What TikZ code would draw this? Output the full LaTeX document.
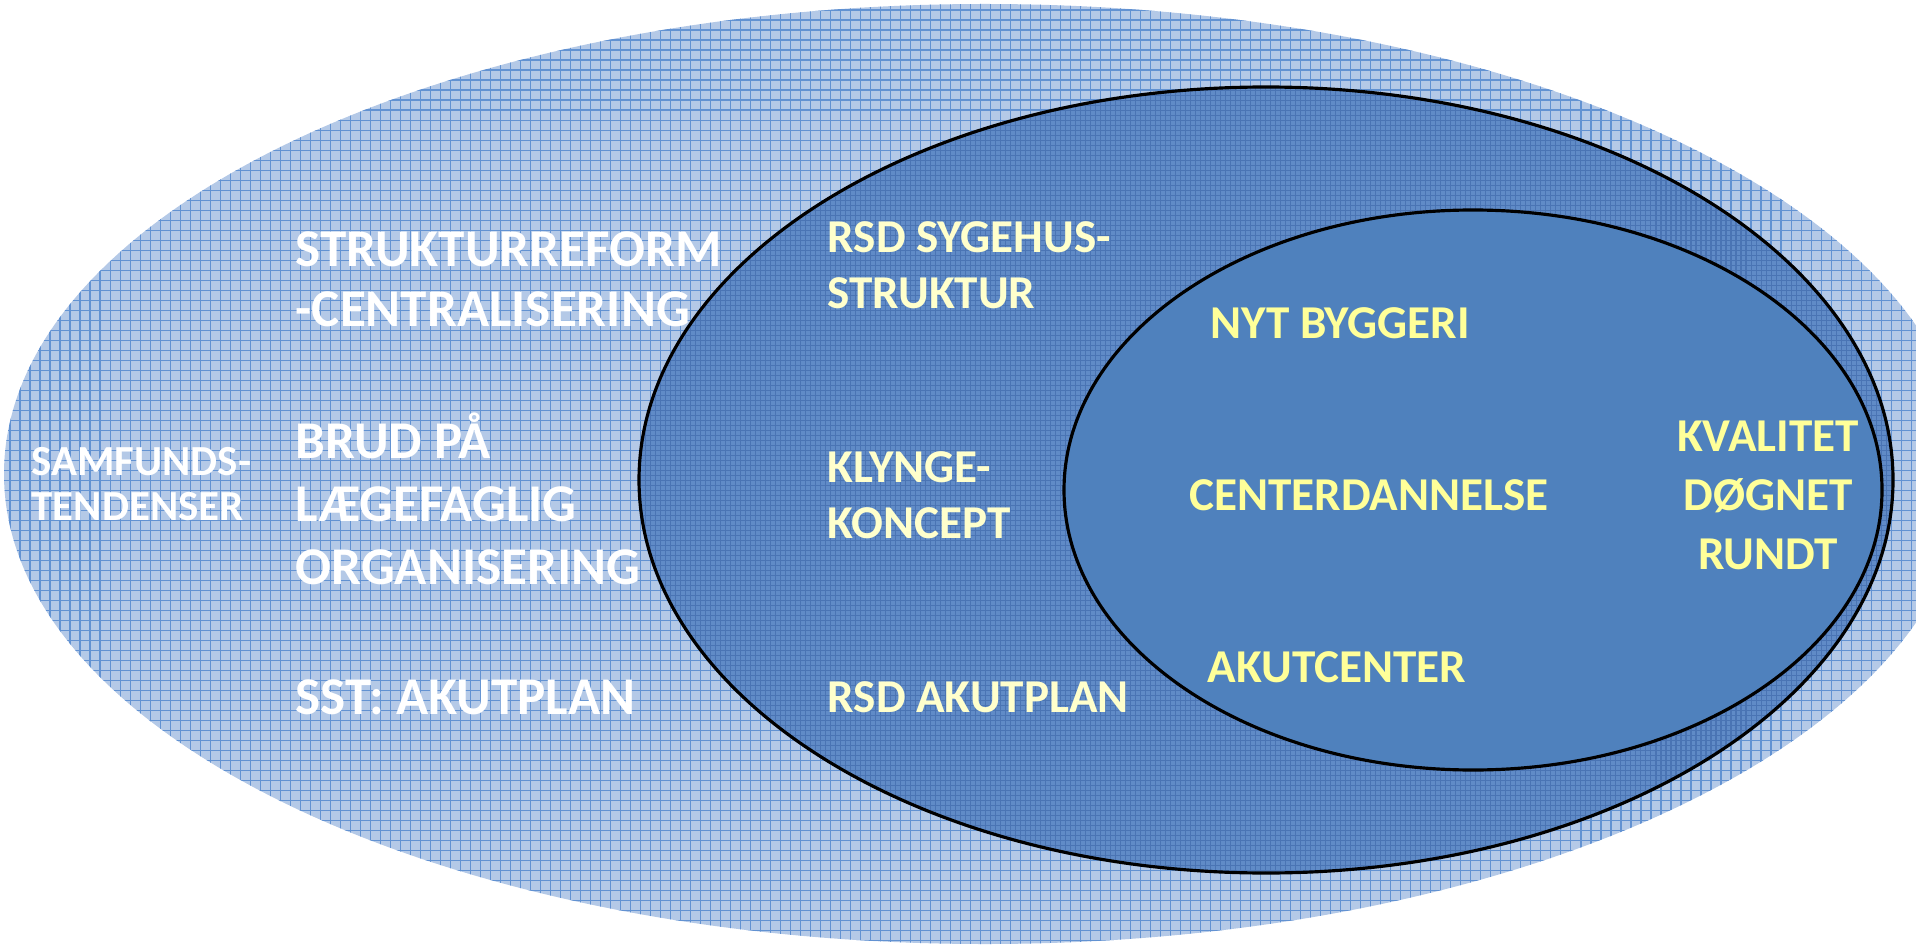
\documentclass[tikz,border=0pt]{standalone}
\usepackage{fontspec}
\setmainfont{Carlito}
\usepackage{tikz}

\definecolor{outerfill}{RGB}{180,201,231}
\definecolor{outergrid}{RGB}{98,146,210}
\definecolor{midfill}{RGB}{96,139,199}
\definecolor{midgrid}{RGB}{74,116,180}
\definecolor{innerfill}{RGB}{79,129,189}
\definecolor{paleyellow}{RGB}{255,255,204}
\definecolor{lightyellow}{RGB}{255,255,153}

\begin{document}
\begin{tikzpicture}[x=0.01cm,y=-0.01cm,
    bigtext/.style={text=white,inner sep=0pt,anchor=west,align=left,
      font=\fontsize{15.1}{17.4}\selectfont\bfseries},
    smalltext/.style={text=white,inner sep=0pt,anchor=west,align=left,
      font=\fontsize{12.2}{12.8}\selectfont\bfseries},
    midtext/.style={text=paleyellow,inner sep=0pt,anchor=west,align=left,
      font=\fontsize{13.4}{16}\selectfont\bfseries},
    innertext/.style={text=lightyellow,inner sep=0pt,align=center,
      font=\fontsize{13.4}{16.8}\selectfont\bfseries},
    rim/.style={draw=black,line width=0.9pt}]
    \useasboundingbox (0,0) rectangle (1916,946);
    \clip (0,0) rectangle (1916,946);

    % three nested ellipses
    \fill [outerfill] (985,474) ellipse [x radius=981,y radius=470];
    \begin{scope}
      \clip (985,474) ellipse [x radius=981,y radius=470];
      \draw [outergrid,line width=0.32pt,step=1mm] (0,0) grid (1916,946);
    \end{scope}
    \fill [midfill] (1266,480) ellipse [x radius=627,y radius=393];
    \begin{scope}
      \clip (1266,480) ellipse [x radius=627,y radius=393];
      \draw [midgrid,line width=0.3pt,step=0.5mm] (0,0) grid (1916,946);
    \end{scope}
    \draw [rim] (1266,480) ellipse [x radius=627,y radius=393];
    \draw [rim,fill=innerfill] (1473,490) ellipse [x radius=409,y radius=280];

    \node [smalltext] (samf) at (31,484) {SAMFUNDS-\\TENDENSER};
    \node [bigtext,font=\fontsize{15.1}{17.1}\selectfont\bfseries] (reform) at (295,279) {STRUKTURREFORM\\-CENTRALISERING};
    \node [bigtext,font=\fontsize{15.1}{18}\selectfont\bfseries] (brud) at (295,499) {BRUD PÅ\\LÆGEFAGLIG\\ORGANISERING};
    \node [bigtext] (sst) at (295,697) {SST: AKUTPLAN};
    \node [midtext] (rsdsyg) at (827,265) {RSD SYGEHUS-\\STRUKTUR};
    \node [midtext] (klynge) at (827,495) {KLYNGE-\\KONCEPT};
    \node [midtext] (rsdakut) at (827,697) {RSD AKUTPLAN};
    \node [innertext] (nyt) at (1340,323) {NYT BYGGERI};
    \node [innertext] (center) at (1369,495) {CENTERDANNELSE};
    \node [innertext] (akut) at (1337,667) {AKUTCENTER};
    \node [innertext] (kval) at (1768,495) {KVALITET\\DØGNET\\RUNDT};
\end{tikzpicture}
\end{document}
